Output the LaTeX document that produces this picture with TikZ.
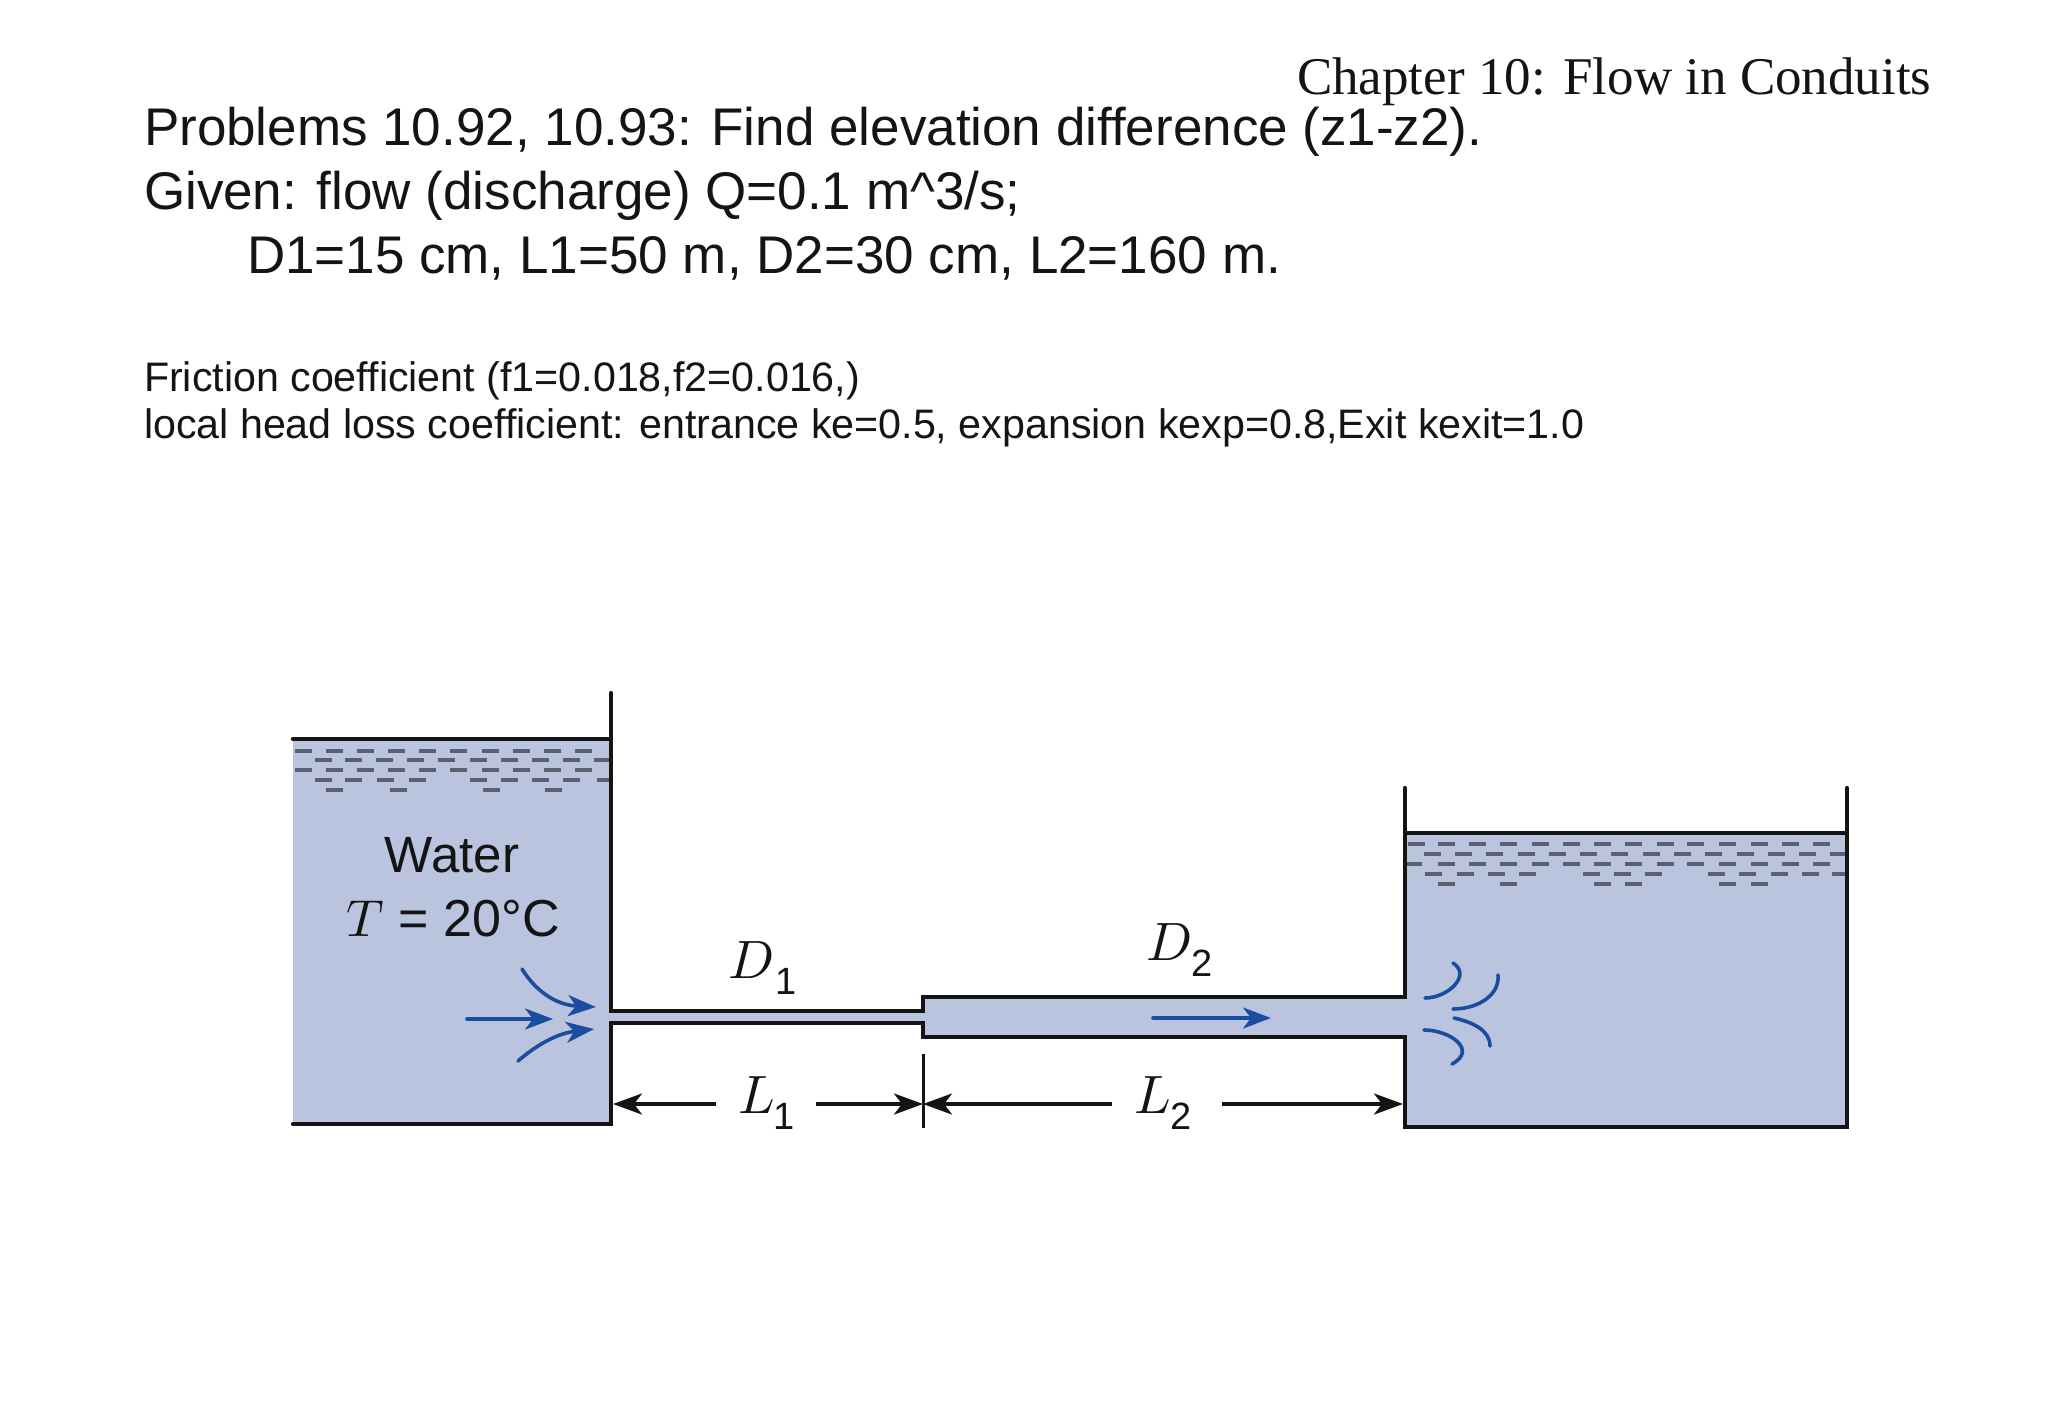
\documentclass[tikz,border=0pt]{standalone}
\usepackage{fontspec}
\usepackage{unicode-math}
\setmainfont{Liberation Sans}
\setmathfont{Latin Modern Math}
\newfontfamily\serifface{Liberation Serif}
\usetikzlibrary{arrows.meta}
\definecolor{waterfill}{HTML}{BAC4DF}
\definecolor{flowblue}{HTML}{1A4CA0}
\definecolor{inkblack}{HTML}{141414}
\definecolor{dashgrey}{HTML}{5A6070}
\newcommand{\txt}[1]{\fontsize{#1}{#1}\selectfont}
\newcommand{\symsub}[3]{\txt{54}$#1$\kern#3pt\raisebox{-16pt}{\txt{38}#2}}
\tikzset{
  x=1pt,y=-1pt,
  wall/.style={draw=inkblack,line width=4.2pt,line cap=round,line join=miter},
  thinwall/.style={draw=inkblack,line width=3pt},
  waterbody/.style={fill=waterfill,draw=none},
  ripple/.style={draw=dashgrey,line width=3.2pt},
  flow/.style={draw=flowblue,line width=3.6pt,line cap=round},
  flowarrow/.style={flow,-{Stealth[length=28pt,width=21pt,inset=8pt]}},
  dimline/.style={draw=inkblack,line width=3.4pt,-{Stealth[length=29pt,width=21pt,inset=8pt]}},
  label/.style={inner sep=0pt,outer sep=0pt,anchor=base west,text=inkblack},
  ctr/.style={inner sep=0pt,outer sep=0pt,anchor=base,text=inkblack},
}
\begin{document}
\begin{tikzpicture}
\useasboundingbox (0,0) rectangle (2046,1414);
% header text
\node[label] (chap) at (1297,94) {\serifface\txt{53}Chapter 10: Flow in Conduits};
\node[label] (p1) at (144,145) {\txt{53}Problems 10.92, 10.93: Find elevation difference (z1-z2).};
\node[label] (p2) at (144,209) {\txt{53}Given: flow (discharge) Q=0.1 m\^{}3/s;};
\node[label] (p3) at (247,273) {\txt{53}D1=15 cm, L1=50 m, D2=30 cm, L2=160 m.};
\node[label] (f1) at (144,391) {\txt{41.2}Friction coefficient (f1=0.018,f2=0.016,)};
\node[label] (f2) at (144,438) {\txt{41.2}local head loss coefficient: entrance ke=0.5, expansion kexp=0.8,Exit kexit=1.0};
% water bodies
\path[waterbody] (293,739) rectangle (611,1124);
\path[waterbody] (611,1012) rectangle (923,1022);
\path[waterbody] (923,997) rectangle (1405,1037);
\path[waterbody] (1405,833) rectangle (1847,1127);
% ripples left tank
\begin{scope}
\clip (293,739) rectangle (611,800);
\foreach \y/\list in {751/{295,326,357,388,419,450,482,513,544,575},
  760/{315,345,376,407,438,470,501,532,563,594},
  770/{295,326,357,388,419,450,482,513,544,575},
  780/{315,345,377,409,470,501,532,563,597},
  790/{326,390,483,545}}{
  \foreach \x in \list {\draw[ripple] (\x,\y) -- ++(17,0);}
}
\end{scope}
% ripples right tank
\begin{scope}
\clip (1405,833) rectangle (1847,895);
\foreach \y/\list in {844/{1408,1438,1469,1500,1532,1563,1594,1625,1657,1687,1719,1751,1782,1813},
  854/{1424,1455,1486,1518,1549,1580,1611,1643,1674,1705,1737,1768,1799,1830},
  864/{1405,1438,1469,1500,1532,1563,1594,1625,1657,1687,1719,1751,1782,1813},
  874/{1425,1457,1488,1519,1583,1614,1645,1708,1739,1771,1802,1832},
  884/{1438,1500,1594,1625,1719,1751}}{
  \foreach \x in \list {\draw[ripple] (\x,\y) -- ++(17,0);}
}
\end{scope}
% walls
\coordinate (lw) at (293,739); \coordinate (lwt) at (611,693);
\coordinate (lwb) at (611,1124); \coordinate (lbl) at (293,1124);
\draw[wall] (lw) -- (611,739);
\draw[wall] (lwt) -- (611,1011) -- (923,1011) -- (923,997) -- (1405,997) -- (1405,788);
\draw[wall] (lbl) -- (lwb) -- (611,1023) -- (923,1023) -- (923,1037) -- (1405,1037) -- (1405,1127) -- (1847,1127) -- (1847,788);
\draw[wall] (1405,833) -- (1847,833);
% dimension lines
\coordinate (dj) at (923,1104);
\coordinate (dl) at (613,1104);
\coordinate (dr) at (1403,1104);
\draw[thinwall] (923,1054) -- (923,1128);
\node[label] (L1) at (738,1113) {\symsub{L}{1}{-1}};
\node[label] (L2) at (1134,1113) {\symsub{L}{2}{0}};
\coordinate (a1) at (716,1104); \coordinate (a2) at (816,1104);
\coordinate (a3) at (1112,1104); \coordinate (a4) at (1222,1104);
\draw[dimline] (a1) -- (dl);
\draw[dimline] (a2) -- (dj);
\draw[dimline] (a3) -- (dj);
\draw[dimline] (a4) -- (dr);
% labels
\node[label] (D1) at (728,978) {\symsub{D}{1}{3}};
\node[label] (D2) at (1146,960) {\symsub{D}{2}{1}};
\node[ctr] (W) at (452,872) {\txt{51}Water};
\node[ctr] (T) at (453,936) {\txt{52}$T$ = 20°C};
% inflow arrows
\draw[flowarrow] (467,1019) -- (553,1019);
\draw[flowarrow] (522,969) .. controls (535,990) and (555,1005) .. (596,1007);
\draw[flowarrow] (518,1061) .. controls (540,1042) and (560,1033) .. (594,1029);
\draw[flowarrow] (1153,1018) -- (1271,1018);
% outflow curls
\draw[flow] (1425,998) .. controls (1448,998) and (1472,975) .. (1453,963);
\draw[flow] (1453,1009) .. controls (1478,1009) and (1500,995) .. (1498,975);
\draw[flow] (1454,1018) .. controls (1472,1022) and (1490,1030) .. (1490,1046);
\draw[flow] (1424,1030) .. controls (1450,1030) and (1478,1050) .. (1452,1064);
\end{tikzpicture}
\end{document}
